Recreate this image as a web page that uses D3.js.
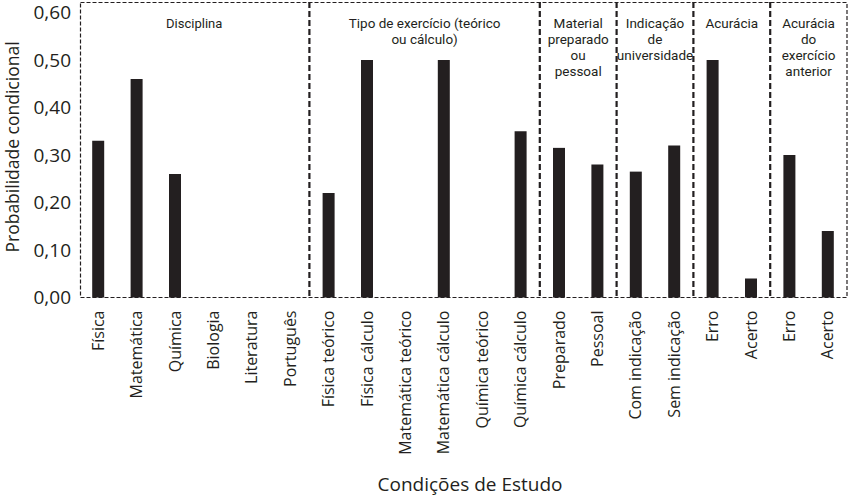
<!DOCTYPE html>
<html>
<head>
<meta charset="utf-8">
<script src="https://cdn.jsdelivr.net/npm/d3@7"></script>
<style>
  body { margin: 0; background: #fff; }
  svg text { font-family: "Open Sans", "Noto Sans", sans-serif; fill: #231f20; }
  svg text.gtitle { font-family: Roboto, "Open Sans", sans-serif; }
</style>
</head>
<body>
<div id="chart"></div>
<script>
// conditions (x categories), in order
const conditions = [
    "Física", "Matemática", "Química", "Biologia", "Literatura", "Português",
    "Física teórico", "Física cálculo", "Matemática teórico", "Matemática cálculo", "Química teórico", "Química cálculo",
    "Preparado", "Pessoal",
    "Com indicação", "Sem indicação",
    "Erro", "Acerto",
    "Erro ", "Acerto "
];
// conditional probability per condition
const probabilities = [
    0.33, 0.46, 0.26, 0, 0, 0,
    0.22, 0.50, 0, 0.50, 0, 0.35,
    0.315, 0.28,
    0.265, 0.32,
    0.50, 0.04,
    0.30, 0.14
];
// groups: title lines and number of conditions
const groupTitles = [
    ["Disciplina"],
    ["Tipo de exercício (teórico", "ou cálculo)"],
    ["Material", "preparado", "ou", "pessoal"],
    ["Indicação", "de", "universidade"],
    ["Acurácia"],
    ["Acurácia", "do", "exercício", "anterior"]
];
const groupSizes = [6, 6, 2, 2, 2, 2];
const yTicks = [0, 0.1, 0.2, 0.3, 0.4, 0.5, 0.6];

const width = 850;
const height = 497;
const margin = {top: 2, right: 3, bottom: 200, left: 79};
const plotBottom = 297.5;

const svg = d3.select("#chart").append("svg")
    .attr("width", width)
    .attr("height", height);

const x = d3.scaleBand()
    .domain(conditions)
    .range([margin.left, width - margin.right]);

const y = d3.scaleLinear()
    .domain([0, 0.6])
    .range([plotBottom, 12.5]);

// Outer dashed frame
svg.append("rect")
    .attr("x", 80.5)
    .attr("y", margin.top + 0.5)
    .attr("width", width - margin.right - 80.5)
    .attr("height", plotBottom - margin.top - 0.5)
    .attr("fill", "none")
    .attr("stroke", "#231f20")
    .attr("stroke-width", 1.2)
    .attr("stroke-dasharray", "4,2");

// Bars
svg.selectAll("rect.bar")
    .data(conditions.map((c, i) => ({c, v: probabilities[i]})).filter(d => d.v > 0))
    .enter()
    .append("rect")
    .attr("class", "bar")
    .attr("x", d => x(d.c) + x.bandwidth() / 2 - 6)
    .attr("width", 12)
    .attr("y", d => y(d.v))
    .attr("height", d => y(0) - y(d.v))
    .attr("fill", "#231f20");

// Group separators and titles (one text per line)
let start = 0;
groupSizes.forEach((n, gi) => {
    const x0 = x(conditions[start]);
    const x1 = x(conditions[start + n - 1]) + x.bandwidth();
    if (gi > 0) {
        svg.append("line")
            .attr("x1", x0).attr("x2", x0)
            .attr("y1", margin.top).attr("y2", plotBottom)
            .attr("stroke", "#231f20")
            .attr("stroke-width", 2.2)
            .attr("stroke-dasharray", "6,3");
    }
    groupTitles[gi].forEach((line, li) => {
        svg.append("text")
            .attr("class", "gtitle")
            .attr("x", (x0 + x1) / 2)
            .attr("y", 28 + li * 15.9)
            .attr("text-anchor", "middle")
            .style("font-size", gi === 0 ? "13px" : "13.5px")
            .text(line);
    });
    start += n;
});

// Y tick labels
svg.selectAll("text.ytick")
    .data(yTicks)
    .enter()
    .append("text")
    .attr("class", "ytick")
    .attr("x", 71)
    .attr("y", d => y(d))
    .attr("dy", "0.35em")
    .attr("text-anchor", "end")
    .style("font-size", "19px")
    .text(d => d3.format(".2f")(d).replace(".", ","));

// X category labels
svg.selectAll("text.xtick")
    .data(conditions)
    .enter()
    .append("text")
    .attr("class", "xtick")
    .attr("transform", d => `translate(${x(d) + x.bandwidth() / 2},${plotBottom + 13}) rotate(-90)`)
    .attr("dy", "0.35em")
    .attr("text-anchor", "end")
    .style("font-size", "16px")
    .text(d => d.trim());

// Axis titles
svg.append("text")
    .attr("transform", `translate(19,${147}) rotate(-90)`)
    .attr("text-anchor", "middle")
    .style("font-size", "17.5px")
    .text("Probabilidade condicional");

svg.append("text")
    .attr("x", 470)
    .attr("y", 491)
    .attr("text-anchor", "middle")
    .style("font-size", "19px")
    .text("Condições de Estudo");
</script>
</body>
</html>
